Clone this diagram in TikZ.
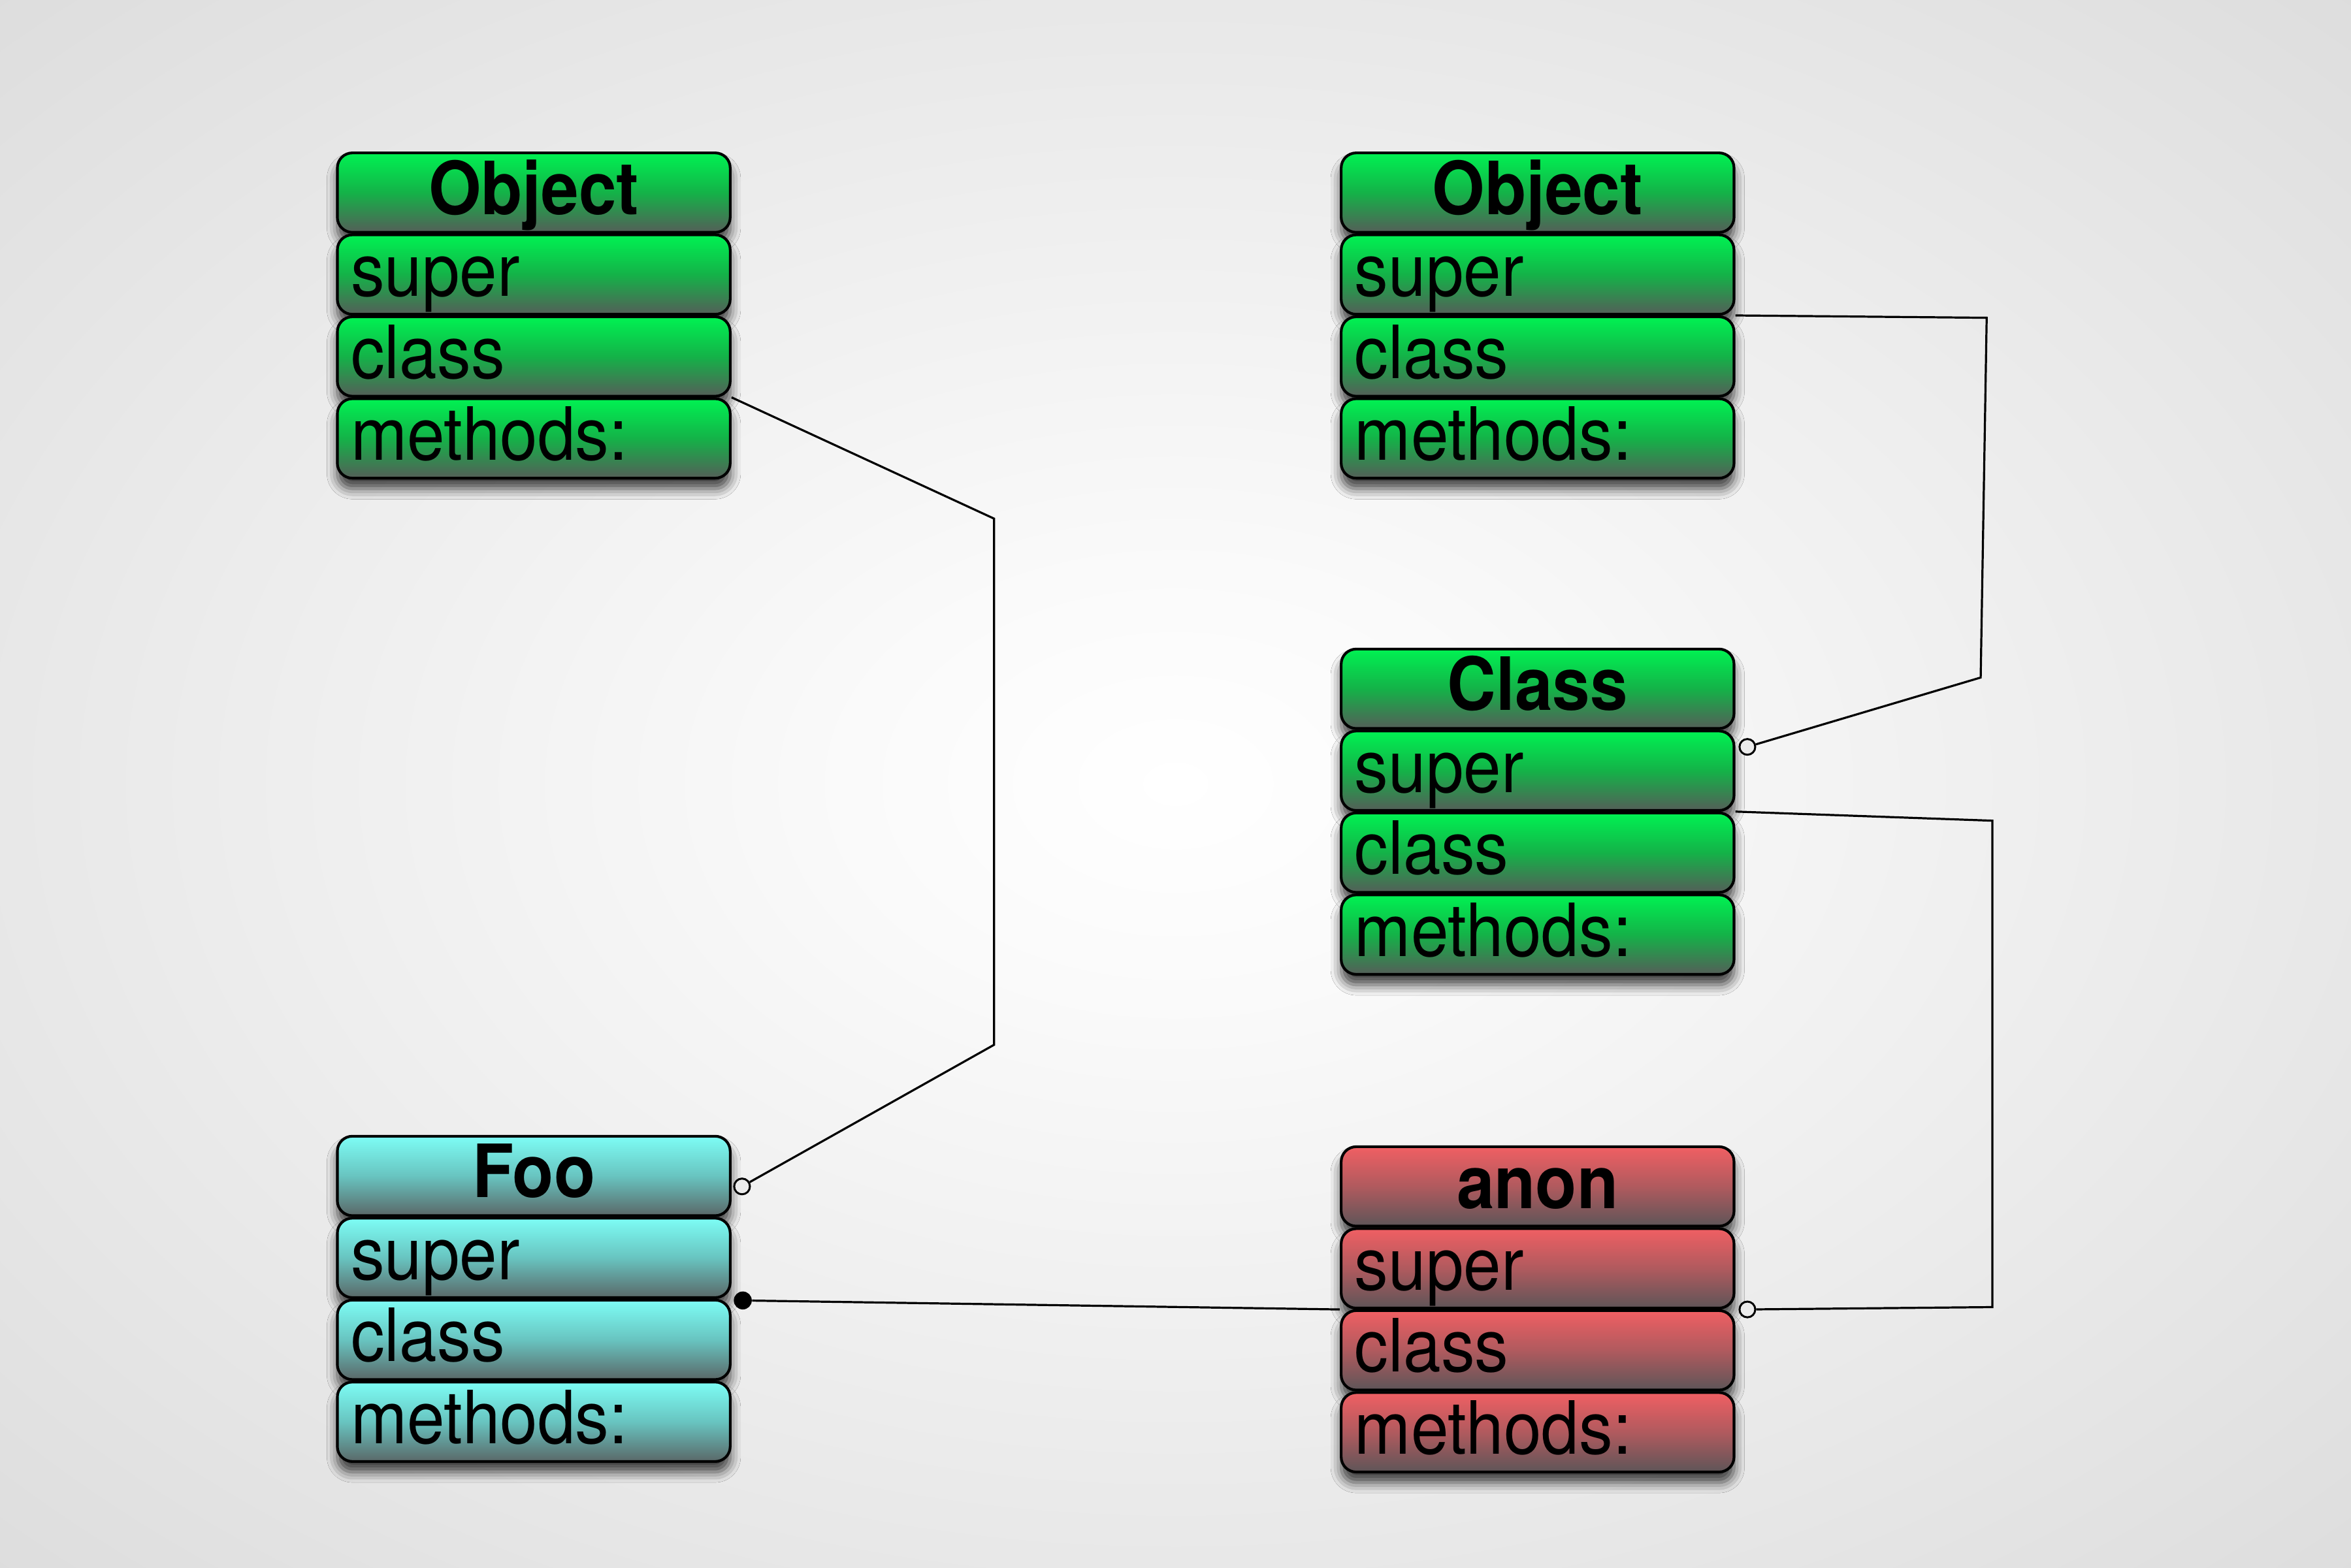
\documentclass[tikz,border=0pt]{standalone}
\usepackage{fontspec}
\setmainfont[FakeStretch=0.92]{TeX Gyre Heros}
\usetikzlibrary{shadows.blur,calc}
\definecolor{gtop}{RGB}{0,242,82}
\definecolor{gmid}{RGB}{20,178,72}
\definecolor{gbot}{RGB}{84,94,88}
\definecolor{ctop}{RGB}{125,253,245}
\definecolor{cmid}{RGB}{104,196,192}
\definecolor{cbot}{RGB}{90,104,104}
\definecolor{rtop}{RGB}{240,95,99}
\definecolor{rmid}{RGB}{176,90,94}
\definecolor{rbot}{RGB}{94,85,88}
\pgfdeclareradialshading{bgshade}{\pgfpoint{0bp}{0bp}}{color(0bp)=(white); color(5bp)=(white!98!black); color(30bp)=(white!84!black); color(50bp)=(white!62!black)}
\newcommand{\mkstack}[5]{%
  \node[row,#5,title] (#1-0) at (#2+131,#3+26.5) {#4};
  \node[row,#5] (#1-1) at (#2+131,#3+81.17) {super};
  \node[row,#5] (#1-2) at (#2+131,#3+135.83) {class};
  \node[row,#5] (#1-3) at (#2+131,#3+190.5) {methods:};
}
\begin{document}
\begin{tikzpicture}[x=1pt,y=-1pt,
  row/.style={draw=black, line width=1.8pt, rounded corners=10pt,
    inner xsep=9pt, inner ysep=0pt, text width=244pt, align=left,
    minimum height=53pt, text height=41pt, text depth=12pt,
    font=\fontsize{49}{53}\selectfont,
    blur shadow={shadow xshift=0pt, shadow yshift=-7pt, shadow blur radius=7pt, shadow opacity=75}},
  title/.style={align=center, font=\fontsize{49}{53}\selectfont\bfseries},
  green/.style={top color=gtop, bottom color=gbot, middle color=gmid},
  cyan/.style={top color=ctop, bottom color=cbot, middle color=cmid},
  red/.style={top color=rtop, bottom color=rbot, middle color=rmid},
  conn/.style={line width=1.4pt, black},
  opencirc/.style={circle, draw=black, line width=1.3pt, fill=black!8, inner sep=0pt, minimum size=10.5pt},
  dotc/.style={circle, fill=black, inner sep=0pt, minimum size=12pt}]
\begin{scope}
\clip (0,0) rectangle (1568,1046);
\shade[shading=bgshade] (784,523) ellipse [x radius=1109, y radius=740];
\end{scope}
\useasboundingbox (0,0) rectangle (1568,1046);

\mkstack{obja}{225}{102}{Object}{green}
\mkstack{objb}{894.5}{102}{Object}{green}
\mkstack{cls}{894.5}{433}{Class}{green}
\mkstack{foo}{225}{758}{Foo}{cyan}
\mkstack{anon}{894.5}{765}{anon}{red}

\node[opencirc] (c1) at ($(foo-0.east)+(7,7)$) {};
\node[opencirc] (c2) at ($(cls-1.north east)+(8,11.5)$) {};
\node[opencirc] (c3) at ($(anon-1.south east)+(8,0)$) {};
\node[dotc] (d1) at ($(foo-1.south east)+(7.5,1)$) {};

\coordinate (b1) at (663,346);
\coordinate (b2) at (663,697);
\coordinate (b3) at (1325,212);
\coordinate (b4) at (1321,452);
\coordinate (b5) at (1328.8,547.5);
\coordinate (b6) at (1328.8,872);

\draw[conn] (obja-3.north east) -- (b1) -- (b2) -- (c1);
\draw[conn] (objb-2.north east) -- (b3) -- (b4) -- (c2);
\draw[conn] (cls-2.north east) -- (b5) -- (b6) -- (c3);
\draw[conn] (anon-1.south west) -- (d1);
\end{tikzpicture}
\end{document}
